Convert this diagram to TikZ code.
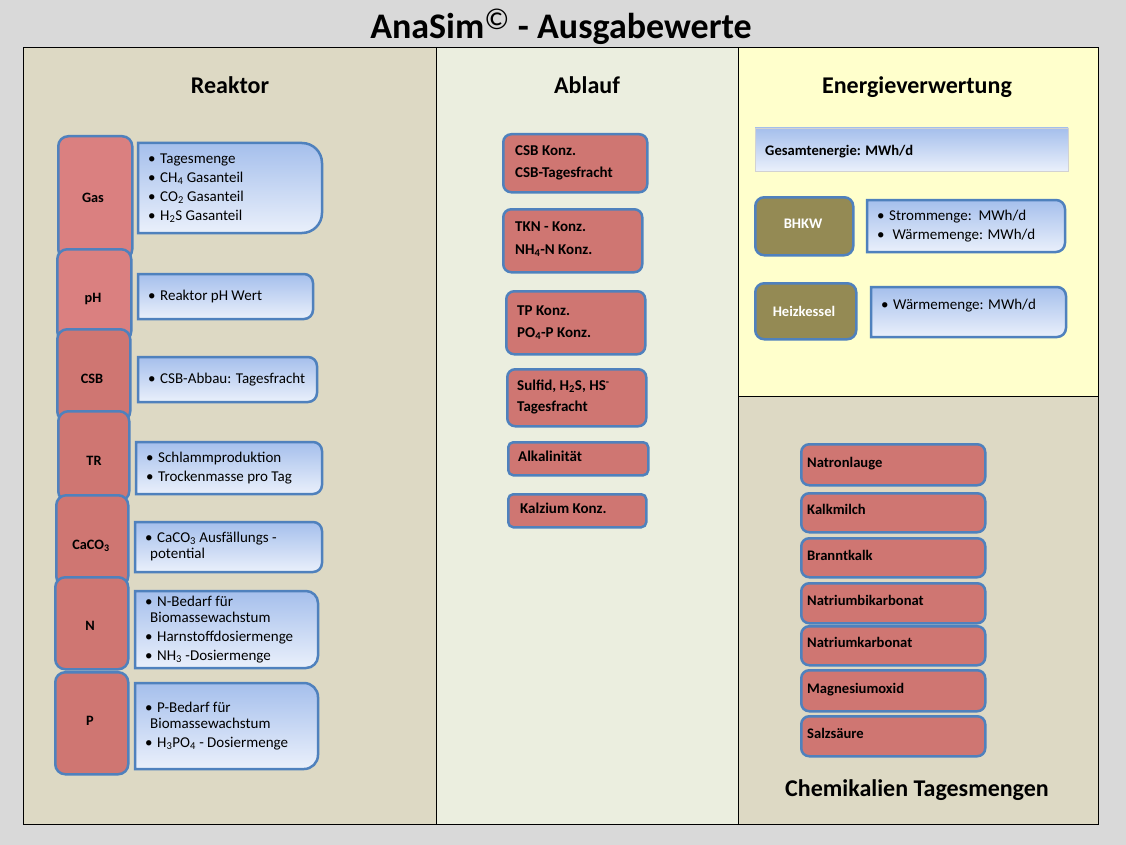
\documentclass[tikz,border=0pt]{standalone}
\usepackage{fontspec}
\setmainfont{Carlito}
\definecolor{bgG}{HTML}{D9D9D9}
\definecolor{tan}{HTML}{DDD9C4}
\definecolor{abl}{HTML}{EBEEDF}
\definecolor{yel}{HTML}{FFFFCC}
\definecolor{redL}{HTML}{DA8080}
\definecolor{redD}{HTML}{CF7672}
\definecolor{bdr}{HTML}{4F81BD}
\definecolor{gTop}{HTML}{A5BFEC}
\definecolor{gBot}{HTML}{EAF0FB}
\definecolor{olive}{HTML}{948A54}
\newcommand\fs[1]{\fontsize{#1}{#1}\selectfont}
\newcommand\bl{\makebox[12pt][l]{•}}
\tikzset{
  panel/.style={draw=black, line width=1pt},
  leftbox/.style={draw=bdr, line width=2.5pt, rounded corners=10pt, anchor=north west, inner sep=0pt},
  redbox/.style={draw=bdr, line width=2.5pt, fill=redD, rounded corners=8pt, anchor=north west, inner sep=0pt},
  olivebox/.style={draw=bdr, line width=2.5pt, fill=olive, rounded corners=9pt, anchor=north west, inner sep=0pt},
  infob/.style={draw=bdr, line width=2.5pt, top color=gTop, bottom color=gBot},
  secttitle/.style={font=\bfseries\fs{24}, anchor=base},
  lbl/.style={font=\bfseries\fs{14.3}},
  txt/.style={anchor=mid west, inner sep=0pt, font=\fs{15}, yshift=-2pt},
  btxt/.style={anchor=mid west, inner sep=0pt, font=\bfseries\fs{15}, yshift=-2pt},
  ctxt/.style={anchor=mid west, inner sep=0pt, font=\bfseries\fs{14.6}, yshift=-2pt},
}
\newcommand\infobox[5]{%
  \draw[infob] (#1,#2) -- ({#3-#5},#2) arc[start angle=-90,end angle=0,radius=#5]
    -- (#3,{#4-#5}) arc[start angle=0,end angle=90,radius=#5] -- (#1,#4) -- cycle;}
\begin{document}
\begin{tikzpicture}[x=1pt,y=-1pt]
\useasboundingbox (0,0) rectangle (1126,845);
\fill[bgG] (0,0) rectangle (1126,845);
% panels
\fill[tan] (23,48) rectangle (436,824);
\fill[abl] (436,48) rectangle (738,824);
\fill[yel] (738,48) rectangle (1098,396);
\fill[tan] (738,396) rectangle (1098,824);
\draw[panel] (23,48) rectangle (1098,824);
\draw[panel] (436,48) -- (436,824);
\draw[panel] (738,48) -- (738,824);
\draw[panel] (738,396) -- (1098,396);
% title
\node[font=\bfseries\fs{36}, anchor=base] (title) at (561,39) {AnaSim\textsuperscript{\normalfont\fs{30}©} - Ausgabewerte};
\node[secttitle] (treak) at (230,94) {Reaktor};
\node[secttitle] (tabl) at (587,94) {Ablauf};
\node[secttitle] (tene) at (917,94) {Energieverwertung};
\node[secttitle] (tchem) at (917,796) {Chemikalien Tagesmengen};

% Reaktor left column
\node[leftbox, fill=redL, minimum width=74pt, minimum height=123pt] (gas) at (57,135) {};
\node[lbl] at (93,198) {Gas};
\node[leftbox, fill=redL, minimum width=74pt, minimum height=92pt] (ph) at (56,248) {};
\node[lbl] at (93,299) {pH};
\node[leftbox, fill=redD, minimum width=73pt, minimum height=92pt] (csb) at (56,328) {};
\node[lbl] at (92,379) {CSB};
\node[leftbox, fill=redD, minimum width=71pt, minimum height=90pt] (tr) at (57,410) {};
\node[lbl] at (94,461) {TR};
\node[leftbox, fill=redD, minimum width=72pt, minimum height=91pt] (caco) at (55,494) {};
\node[lbl] at (91,546) {CaCO\textsubscript{3}};
\node[leftbox, fill=redD, minimum width=73pt, minimum height=92pt] (n) at (54,576) {};
\node[lbl] at (90,626) {N};
\node[leftbox, fill=redD, minimum width=73pt, minimum height=102pt] (p) at (54,671) {};
\node[lbl] at (90,721) {P};

% Reaktor info boxes
\infobox{138}{143}{322}{233}{20}
\node[txt] (g1) at (148,159) {\bl Tagesmenge};
\node[txt] (g2) at (148,178) {\bl CH\textsubscript{4} Gasanteil};
\node[txt] (g3) at (148,197) {\bl CO\textsubscript{2} Gasanteil};
\node[txt] (g4) at (148,216) {\bl H\textsubscript{2}S Gasanteil};
\infobox{138}{274}{313}{319}{9}
\node[txt] (p1) at (148,296) {\bl Reaktor pH Wert};
\infobox{138}{357}{317}{402}{9}
\node[txt] (c1) at (148,379) {\bl CSB-Abbau: Tagesfracht};
\infobox{136}{442}{322}{494}{9}
\node[txt] (t1) at (146,458) {\bl Schlammproduktion};
\node[txt] (t2) at (146,477) {\bl Trockenmasse pro Tag};
\infobox{135}{522}{322}{572}{9}
\node[txt] (k1) at (145,538) {\bl CaCO\textsubscript{3} Ausfällungs -};
\node[txt] (k2) at (150,554) {potential};
\infobox{135}{591}{318}{668}{12}
\node[txt] (n1) at (145,602) {\bl N-Bedarf für};
\node[txt] (n2) at (150,618) {Biomassewachstum};
\node[txt] (n3) at (145,637) {\bl Harnstoffdosiermenge};
\node[txt] (n4) at (145,656) {\bl NH\textsubscript{3} -Dosiermenge};
\infobox{135}{683}{318}{769}{14}
\node[txt] (q1) at (145,708) {\bl P-Bedarf für};
\node[txt] (q2) at (150,724) {Biomassewachstum};
\node[txt] (q3) at (145,743) {\bl H\textsubscript{3}PO\textsubscript{4} - Dosiermenge};

% Ablauf
\node[redbox, minimum width=144pt, minimum height=58pt] (a1) at (502,133) {};
\node[btxt] (a1a) at (515,151) {CSB Konz.};
\node[btxt] (a1b) at (515,173) {CSB-Tagesfracht};
\node[redbox, minimum width=139pt, minimum height=63pt] (a2) at (502,208) {};
\node[btxt] (a2a) at (515,227) {TKN - Konz.};
\node[btxt] (a2b) at (515,250) {NH\textsubscript{4}-N Konz.};
\node[redbox, minimum width=139pt, minimum height=63pt] (a3) at (505,290) {};
\node[btxt] (a3a) at (517,311) {TP Konz.};
\node[btxt] (a3b) at (517,333) {PO\textsubscript{4}-P Konz.};
\node[redbox, minimum width=139pt, minimum height=57pt] (a4) at (506,368) {};
\node[btxt] (a4a) at (517,386) {Sulfid, H\textsubscript{2}S, HS\textsuperscript{-}};
\node[btxt] (a4b) at (517,407) {Tagesfracht};
\node[redbox, rounded corners=5pt, minimum width=140pt, minimum height=33pt] (a5) at (507,441) {};
\node[btxt] (a5a) at (518,457) {Alkalinität};
\node[redbox, rounded corners=5pt, minimum width=138pt, minimum height=33pt] (a6) at (507,493) {};
\node[btxt] (a6a) at (520,509) {Kalzium Konz.};

% Energie
\shade[top color=gTop, bottom color=gBot, draw=gray!35, line width=0.6pt] (755,128) rectangle (1068,171);
\node[btxt, font=\bfseries\fs{14.6}] (ges) at (765,151) {Gesamtenergie: MWh/d};
\node[olivebox, minimum width=98pt, minimum height=58pt] (bhkw) at (754,196) {};
\node[font=\bfseries\fs{14.6}, text=white] (bhkwt) at (803,224) {BHKW};
\node[olivebox, minimum width=101pt, minimum height=56pt] (heiz) at (754,282) {};
\node[font=\bfseries\fs{14.6}, text=white] (heizt) at (804,311) {Heizkessel};
\infobox{867}{200}{1065}{252}{9}
\node[txt] (e1) at (877,216) {\bl Strommenge:\ \ MWh/d};
\node[txt] (e2) at (877,235) {\bl\ Wärmemenge: MWh/d};
\infobox{871}{287}{1066}{337}{9}
\node[txt] (e3) at (881,305) {\bl Wärmemenge: MWh/d};

% Chemikalien
\node[redbox, minimum width=184pt, minimum height=41pt] (c1b) at (800,443) {};
\node[ctxt] (c1t) at (807,463) {Natronlauge};
\node[redbox, minimum width=184pt, minimum height=39pt] (c2b) at (800,492) {};
\node[ctxt] (c2t) at (807,510) {Kalkmilch};
\node[redbox, minimum width=184pt, minimum height=39pt] (c3b) at (800,537) {};
\node[ctxt] (c3t) at (807,556) {Branntkalk};
\node[redbox, minimum width=184pt, minimum height=40pt] (c4b) at (800,582) {};
\node[ctxt] (c4t) at (807,601) {Natriumbikarbonat};
\node[redbox, minimum width=184pt, minimum height=39pt] (c5b) at (800,625) {};
\node[ctxt] (c5t) at (807,643) {Natriumkarbonat};
\node[redbox, minimum width=184pt, minimum height=41pt] (c6b) at (800,669) {};
\node[ctxt] (c6t) at (807,689) {Magnesiumoxid};
\node[redbox, minimum width=184pt, minimum height=40pt] (c7b) at (800,715) {};
\node[ctxt] (c7t) at (807,734) {Salzsäure};
\end{tikzpicture}
\end{document}
